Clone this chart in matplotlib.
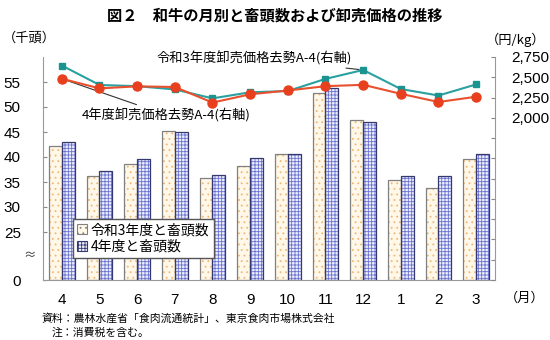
import numpy as np
import matplotlib
matplotlib.use('Agg')
import matplotlib.pyplot as plt
from matplotlib.patches import Patch
from matplotlib.ticker import FuncFormatter

plt.rcParams['font.family'] = ['Noto Sans CJK JP', 'DejaVu Sans']
plt.rcParams['hatch.linewidth'] = 0.6

#data
months = ['4', '5', '6', '7', '8', '9', '10', '11', '12', '1', '2', '3']
heads_r3 = [42.3, 36.2, 38.7, 45.2, 35.8, 38.2, 40.7, 52.9, 47.5, 35.4, 33.8, 39.7]
heads_r4 = [43.0, 37.3, 39.6, 45.0, 36.5, 39.8, 40.6, 53.8, 47.1, 36.2, 36.2, 40.6]
price_r3 = [2645, 2405, 2390, 2350, 2240, 2315, 2330, 2480, 2590, 2355, 2275, 2412]
price_r4 = [2482, 2363, 2388, 2380, 2188, 2290, 2337, 2390, 2407, 2296, 2195, 2260]


#broken left scale: 0-25 squeezed, 25-60 normal
def fwd(v):
    v = np.asarray(v, dtype=float)
    return np.where(v <= 25, v * 48 / 25, 48 + (v - 25) * 5)


def inv(d):
    d = np.asarray(d, dtype=float)
    return np.where(d <= 48, d * 25 / 48, 25 + (d - 48) / 5)


fig = plt.figure(figsize=(5.5, 3.4), dpi=100)
ax = fig.add_axes([43 / 550, 60 / 340, 452 / 550, 223 / 340])
ax.set_yscale('function', functions=(fwd, inv))
ax.set_ylim(0, 60)
ax.set_xlim(-0.5, 11.5)

x = np.arange(len(months))
w = 0.345
# hatch layer then outline layer
ax.bar(x - w / 2, heads_r3, w, color='#fff8e8', edgecolor='#f0b878', hatch='...', linewidth=0, zorder=2)
ax.bar(x - w / 2, heads_r3, w, fill=False, edgecolor='#808080', linewidth=0.9, zorder=3)
ax.bar(x + w / 2, heads_r4, w, color='#eceefc', edgecolor='#6a72d0', hatch='+++++', linewidth=0, zorder=2)
ax.bar(x + w / 2, heads_r4, w, fill=False, edgecolor='#34386e', linewidth=0.9, zorder=3)

ax.set_yticks([0, 25, 30, 35, 40, 45, 50, 55])
ax.set_yticklabels(['0', '25', '30', '35', '40', '45', '50', '55'], family='Liberation Sans', fontsize=11)
ax.tick_params(axis='y', direction='in', length=3, pad=16, color='#888888')
ax.set_xticks(x)
ax.set_xticklabels(months, family='Liberation Sans', fontsize=11)
ax.tick_params(axis='x', length=0, pad=9)
for s in ['top', 'right']:
    ax.spines[s].set_visible(False)
ax.spines['left'].set_color('#999999')
ax.spines['bottom'].set_color('#999999')
ax.text(-0.03, 0.11, '≈', transform=ax.transAxes, ha='center', va='center', fontsize=9, color='#333333')

ax2 = ax.twinx()
ax2.set_ylim(0, 2750)
ax2.set_yticks(np.arange(0, 2751, 250))
ax2.yaxis.set_major_formatter(FuncFormatter(lambda v, p: f'{int(v):,}' if v >= 2000 else ''))
for lab in ax2.get_yticklabels():
    lab.set_family('Liberation Sans')
ax2.tick_params(axis='y', direction='in', length=3, pad=12, color='#888888', labelsize=11)
for s in ['top', 'left', 'bottom']:
    ax2.spines[s].set_visible(False)
ax2.spines['right'].set_color('#999999')

ax2.plot(x, price_r3, color='#2aa0a0', lw=1.5, marker='s', ms=5, mfc='#1a9490', mec='#1a9490', zorder=4)
ax2.plot(x, price_r4, color='#e8502e', lw=1.5, marker='o', ms=6.5, mfc='#e8401e', mec='#e8401e', zorder=5)

ax2.annotate('令和3年度卸売価格去勢A-4(右軸)', xy=(8, price_r3[8]), xycoords='data',
             xytext=(352, 340 - 58), textcoords='figure pixels', ha='right', va='center',
             fontsize=9.5, arrowprops=dict(arrowstyle='-', color='#333333', lw=0.8, shrinkA=1, shrinkB=3))
ax2.annotate('4年度卸売価格去勢A-4(右軸)', xy=(0, price_r4[0]), xycoords='data',
             xytext=(82, 340 - 115), textcoords='figure pixels', ha='left', va='center',
             fontsize=9.5, arrowprops=dict(arrowstyle='-', color='#333333', lw=0.8, shrinkA=1, shrinkB=3))

handles = [Patch(facecolor='#fff8e8', edgecolor='#808080', hatch='...', lw=0.8),
           Patch(facecolor='#eceefc', edgecolor='#34386e', hatch='+++++', lw=0.8)]
leg = ax.legend(handles, ['令和3年度と畜頭数', '4年度と畜頭数'], loc='lower left',
                bbox_to_anchor=(66 / 550, (340 - 265) / 340), bbox_transform=fig.transFigure,
                fontsize=10, handlelength=0.7, handleheight=0.7, handletextpad=0.3,
                labelspacing=0.2, borderpad=0.3, fancybox=False, framealpha=1,
                edgecolor='#555555')
leg.set_zorder(6)

fig.text(0.5, 1 - 16 / 340, '図２　和牛の月別と畜頭数および卸売価格の推移', ha='center', va='center',
         fontsize=11, fontweight='bold')
fig.text(3 / 550, 1 - 38 / 340, '（千頭）', ha='left', va='center', fontsize=9.5)
fig.text(545 / 550, 1 - 40 / 340, '（円/kg）', ha='right', va='center', fontsize=9.5)
fig.text(505 / 550, 1 - 298 / 340, '（月）', ha='left', va='center', fontsize=9.5)
fig.text(42 / 550, 1 - 318 / 340, '資料：農林水産省「食肉流通統計」、東京食肉市場株式会社', ha='left',
         va='center', fontsize=7.8)
fig.text(52 / 550, 1 - 333 / 340, '注：消費税を含む。', ha='left', va='center', fontsize=7.8)

fig.savefig('out.png', dpi=100)
